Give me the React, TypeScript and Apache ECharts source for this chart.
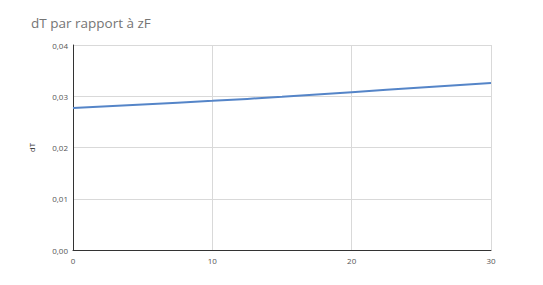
import React, { useEffect, useRef } from "react";
import * as echarts from "echarts";

const title = "dT par rapport à zF";
const yName = "dT";
const xValues = [0, 5, 10, 15, 20, 25, 30];
const dTValues = [0.0277, 0.0284, 0.0291, 0.0299, 0.0308, 0.0317, 0.0326];

export default function App() {
  const ref = useRef<HTMLDivElement>(null);
  useEffect(() => {
    const chart = echarts.init(ref.current!, null, { renderer: "svg" });
    chart.setOption({
      animation: false,
      backgroundColor: "#ffffff",
      title: {
        text: title,
        left: 26,
        top: 11,
        textStyle: { fontFamily: "Open Sans", fontSize: 13.5, fontWeight: "normal", color: "#757575" },
      },
      grid: { left: 73, right: 52, top: 45, bottom: 35 },
      xAxis: {
        type: "value",
        min: 0,
        max: 30,
        interval: 10,
        axisLine: { show: true, lineStyle: { color: "#333333", width: 1 } },
        axisTick: { show: false },
        splitLine: { show: true, lineStyle: { color: "#d9d9d9", width: 1 } },
        axisLabel: { fontFamily: "Open Sans", fontSize: 8, color: "#555555", margin: 6 },
      },
      yAxis: {
        type: "value",
        min: 0,
        max: 0.04,
        interval: 0.01,
        name: yName,
        nameLocation: "middle",
        nameGap: 38,
        nameRotate: 90,
        nameTextStyle: { fontFamily: "Open Sans", fontSize: 8, color: "#333333" },
        axisLine: { show: true, lineStyle: { color: "#333333", width: 1 } },
        axisTick: { show: false },
        splitLine: { show: true, lineStyle: { color: "#d9d9d9", width: 1 } },
        axisLabel: {
          fontFamily: "Open Sans",
          fontSize: 8,
          color: "#555555",
          margin: 5,
          formatter: (v: number) => v.toFixed(2).replace(".", ","),
        },
      },
      series: [
        {
          type: "line",
          data: xValues.map((x, i) => [x, dTValues[i]]),
          smooth: true,
          showSymbol: false,
          lineStyle: { color: "#5585c8", width: 2 },
        },
      ],
    });
    return () => chart.dispose();
  }, []);
  return (
    <div
      ref={ref}
      style={{ position: "fixed", left: 0, top: 0, width: 543, height: 285 }}
    />
  );
}
